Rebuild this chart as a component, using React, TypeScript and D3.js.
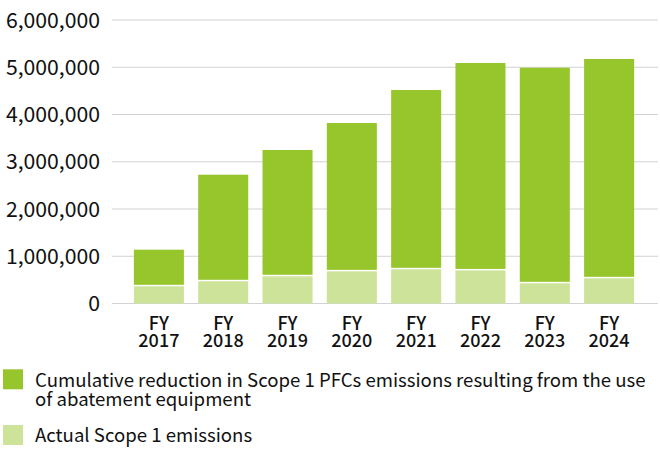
import React from "react";
import * as d3 from "d3";

const years = ["2017", "2018", "2019", "2020", "2021", "2022", "2023", "2024"];
const actualEmissions = [364000, 470000, 576000, 680000, 724000, 700000, 427000, 533000];
const cumulativeReduction = [775000, 2256000, 2673000, 3140000, 3795000, 4390000, 4563000, 4642000];
const yTicks = [0, 1000000, 2000000, 3000000, 4000000, 5000000, 6000000];
const legendItems = [
  { lines: ["Cumulative reduction in Scope 1 PFCs emissions resulting from the use", "of abatement equipment"], color: "#97C52C" },
  { lines: ["Actual Scope 1 emissions"], color: "#CCE399" },
];

const FONT = "'Noto Sans CJK JP', 'Noto Sans', sans-serif";

export default function App() {
  const W = 660, H = 450;
  const x = d3.scaleBand<string>().domain(years).range([112, 656]).paddingInner(0.222).paddingOuter(0.34);
  const y = d3.scaleLinear().domain([0, 6000000]).range([303.5, 20]);
  const fmt = d3.format(",");
  const bw = x.bandwidth();
  return (
    <div style={{ position: "absolute", left: 0, top: 0 }}>
      <svg width={W} height={H} style={{ display: "block", fontFamily: FONT }}>
        {yTicks.map((t) => (
          <g key={t}>
            <line x1={112} x2={658} y1={y(t)} y2={y(t)} stroke="#d2d2d2" strokeWidth={1} />
            <text x={100} y={y(t)} dy="0.36em" textAnchor="end" fontSize={21.2} fill="#111">
              {fmt(t)}
            </text>
          </g>
        ))}
        {years.map((yr, i) => {
          const x0 = x(yr)!;
          const a = actualEmissions[i];
          const r = cumulativeReduction[i];
          return (
            <g key={yr}>
              <rect x={x0} width={bw} y={y(a)} height={y(0) - y(a)} fill="#CCE399" />
              <rect x={x0} width={bw} y={y(a + r)} height={y(a) - y(a + r) - 1.5} fill="#97C52C" />
              <text x={x0 + bw / 2} y={329.5} textAnchor="middle" fontSize={18} fontWeight={500} fill="#111">FY</text>
              <text x={x0 + bw / 2} y={346.5} textAnchor="middle" fontSize={18} fontWeight={500} fill="#111">{yr}</text>
            </g>
          );
        })}
        {legendItems.map((item, i) => {
          const top = i === 0 ? 369.3 : 425;
          return (
            <g key={i}>
              <rect x={3} y={top} width={20} height={20} fill={item.color} />
              {item.lines.map((ln, j) => (
                <text key={j} x={35} y={top + 17.3 + j * 19.5} fontSize={18.6} fill="#111">{ln}</text>
              ))}
            </g>
          );
        })}
      </svg>
    </div>
  );
}
